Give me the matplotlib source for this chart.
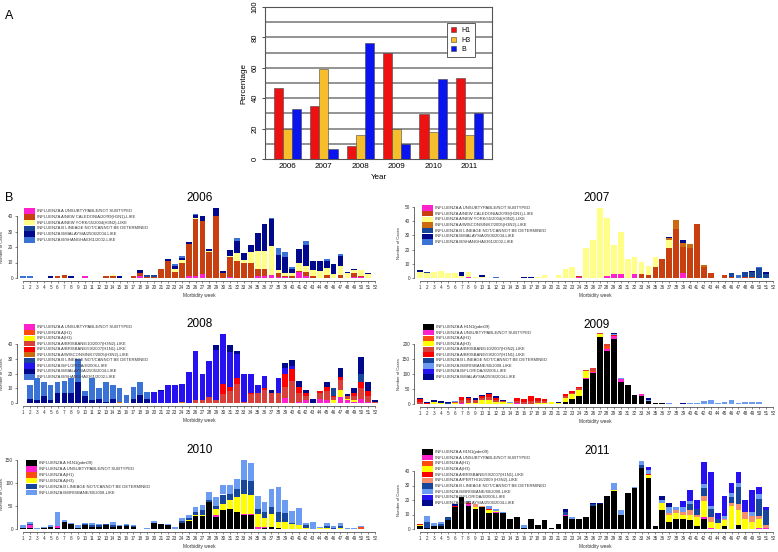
import matplotlib
matplotlib.use('Agg')
import matplotlib.pyplot as plt
from matplotlib.patches import Rectangle

plt.rcParams['font.family'] = ['Liberation Sans', 'DejaVu Sans']

W, H = 778, 552

# ---------------- panel A data ----------------
years = ['2006', '2007', '2008', '2009', '2010', '2011']
pct_h1 = [46.5, 35, 8.5, 70, 29.5, 53]
pct_h3 = [20, 59, 15.5, 19.5, 17.5, 16]
pct_b = [33, 6.5, 76, 10, 52.5, 30]

weeks = list(range(1, 53))

# ---------------- 2006 ----------------
unsub06 = [0, 0, 0, 0, 0, 0, 0, 0, 0, 1, 0, 0, 0, 0, 0, 0, 0, 1, 0, 0,
           0, 0, 0, 0, 1, 1, 2.5, 0, 0, 0, 0.5, 0, 0, 0, 1, 1, 2, 0.5, 0.5, 0,
           4, 1, 0, 0, 0, 0, 0, 0, 0.5, 0.5, 0, 0]
nc06 = [0, 0, 0, 0, 0, 1, 2, 0, 0, 0, 0, 0, 1, 1, 0, 0, 1, 2.5, 0.5, 0.5,
        6, 11, 4, 10, 21, 37, 34.5, 17, 40, 3, 13, 11, 9.5, 10, 5, 5, 0, 3, 1, 1,
        0.5, 3, 1, 0, 2, 0, 2, 0, 2.5, 0.5, 0, 0]
ny06 = [0, 0, 0, 0, 0, 0.5, 0, 0, 0, 0, 0, 0, 0, 0.7, 0, 0, 0, 0, 0, 0,
        0, 0, 1.5, 1.5, 0, 0.5, 0, 0.5, 0, 0, 1, 5, 2, 7, 11.5, 11.5, 18.5, 1.5, 2, 2,
        5.5, 4, 4, 4.5, 4.5, 2.5, 6, 3.5, 2, 4, 2.5, 0]
blin06 = [0, 0, 0, 0, 0, 0, 0, 0, 0, 0, 0, 0, 0, 0, 0, 0, 0, 0, 1.5, 1.5,
          0, 0, 0, 0, 0, 0, 0, 0, 0, 0, 0, 0, 0, 0, 0, 0, 0, 0, 0, 0,
          0, 0, 0, 0, 0, 0, 0, 0, 0, 0, 0, 0]
bmal06 = [0, 0, 0, 0, 1, 0, 0, 1, 0, 0, 0, 0, 0, 0, 1, 0, 0, 1.5, 0, 0,
          0, 1, 2.5, 1.5, 1.5, 2, 3, 1.5, 5, 1.5, 3.5, 8, 4.5, 4, 11.5, 17.5, 17.5, 10, 10, 3,
          9, 13, 6, 6.5, 4.5, 6.5, 6.5, 0.5, 1, 0, 1, 0]
bsha06 = [1, 1, 0, 0, 0, 0, 0, 0, 0, 0, 0, 0, 0, 0, 0, 0, 0, 0, 0, 0,
          0, 0, 1, 1, 0, 0.5, 0, 0, 0, 0, 0, 2, 0, 0, 0, 0, 0.5, 4.5, 3.5, 1,
          0, 3, 0, 0, 1, 0, 1, 0, 0, 0, 0, 0]

# ---------------- 2007 ----------------
unsub07 = [0, 0, 0, 0, 0, 0, 0, 1, 0, 0, 0, 0, 0, 0, 0, 0, 0, 0, 0, 0,
           0, 0, 0, 1, 0, 0, 0, 1.5, 3, 3, 0, 3, 0, 0, 0, 0, 0, 0, 3.5, 0,
           0, 0, 0, 0, 0, 0, 0, 0, 0, 0, 0, 0]
nc07 = [0, 0, 0, 0, 0, 0, 0, 0, 0, 0, 0, 0, 0, 0, 0, 0, 0, 0, 0, 0,
        0, 0, 0, 0.5, 0, 0, 0, 0, 0, 0, 0, 0, 3, 2, 8, 13.5, 21, 34.5, 18.5, 21,
        38, 8, 3.5, 0, 2, 1, 0, 1, 1, 0, 0, 0]
ny07 = [4.5, 3.5, 4, 5, 3.5, 3.5, 1.5, 3, 1, 1, 0, 0, 0, 0, 0, 0, 0, 1, 2, 0,
        2, 6.5, 8, 0, 21, 26.5, 49, 40.5, 20.5, 29.5, 13.5, 11.5, 8, 6.5, 6.5, 0, 6, 0, 0, 0,
        0, 0, 0, 0, 0, 0, 0, 0, 0, 0, 0, 0]
wis07 = [0, 0, 0, 0, 0, 0, 0, 0, 0, 0, 0, 0, 0, 0, 0, 0, 0, 0, 0, 0,
         0, 0, 0, 0, 0, 0, 0, 0, 0, 0, 0, 0, 0, 0, 0, 0, 1.5, 6, 3, 3,
         0, 1, 0, 0, 0, 0, 0, 0, 0, 0, 0, 0]
blin07 = [0, 1, 0, 0, 0, 0, 0, 0, 0, 0, 0, 0, 0, 0, 0, 0, 0, 0, 0, 0,
          0, 0, 0, 0, 0, 0, 0, 0, 0, 0, 0, 0, 0, 0, 0, 0, 0, 0, 0, 0,
          0, 0, 0, 0, 0, 2.5, 0, 3, 3, 7, 2.5, 0]
bmal07 = [1, 0, 0, 0, 0, 0, 2.5, 0, 0, 1, 0, 0, 0, 0, 0, 1, 1, 0, 0, 0,
          0, 0, 0, 0, 0, 0, 0, 0, 0, 0, 0, 0, 0, 0, 0, 0, 0.5, 0, 1.5, 0,
          0, 0, 0, 0, 0, 0, 0, 0, 1, 0, 1.5, 0]
bsha07 = [0, 0, 0, 0, 0, 0, 0, 0, 0, 0, 0, 1, 0, 0, 0, 0, 0, 0, 0, 0,
          0, 0, 0, 0, 0, 0, 0, 0, 0, 0, 0, 0, 0, 0, 0, 0, 0, 0, 0, 0,
          0, 0, 0, 0, 0, 0, 2, 0, 0, 1, 0, 0]

# ---------------- 2008 ----------------
unsub08 = [0] * 38 + [3.6, 0, 1, 2, 0, 3, 2, 0, 4, 2, 1, 3, 1, 0]
ah1_08 = [0] * 52
ah3_08 = [0] * 45 + [2, 5, 1, 1, 0, 0, 0]
bris10_08 = [0] * 25 + [2, 2, 4, 2, 6, 8, 13, 1, 6, 7, 9, 7, 7, 7.4, 15,
                        6, 3, 0, 4, 6, 2, 6.5, 2, 3, 7, 4, 1]
bris59_08 = [0] * 29 + [7, 3, 4, 0, 1, 0, 1, 0, 0, 9, 8,
                        4, 2, 0, 1, 3, 1, 2.5, 0, 2, 4, 3, 0]
wis08 = [0] * 14 + [0.5] + [0] * 8 + [0.5] + [0] * 28
blin08 = [0] * 45 + [5, 0, 0, 0, 6, 0, 0]
bflo08 = [0] * 19 + [7.3, 8, 12, 12, 12.5, 21, 33.7, 18, 24.6, 34, 33.8,
                     24, 16, 18.5, 12.5, 5.3, 8.5, 0, 9.8, 4, 2,
                     0, 0, 0, 0, 0, 0, 0, 0, 0, 0, 0, 0]
bmal08 = [0, 3, 2, 5, 2, 7, 7, 7, 14.5, 5, 2, 3, 1, 3, 0, 0, 3, 5.5, 3, 0,
          1, 0, 0, 0, 0, 0, 0, 0, 3.5, 0, 4.5, 2.7, 0, 0, 0, 0, 2, 0, 3, 4.3,
          4, 2, 3, 0, 3.5, 0, 6, 1, 3.5, 11, 6.5, 1]
bsha08 = [0, 9, 15, 9.5, 10.5, 7.5, 8, 10, 15.5, 3, 15, 7, 13.5, 9.3, 9.5, 5.5, 8, 8.5, 4.3] + [0] * 33

# ---------------- 2009 ----------------
pdm09 = [0] * 21 + [8, 18, 28, 84, 102, 225, 176, 218, 75, 65, 30, 28, 10, 3, 2, 0, 1, 1,
                    0, 0, 0, 0, 0, 0, 0, 0, 0, 0, 0, 0, 0]
unsub09 = [0, 0, 0, 0, 0, 0, 2, 0, 0, 0, 0, 0, 0, 0, 2, 0, 0, 0, 0, 0,
           0, 0, 0, 0, 2, 4, 0, 8, 8, 8, 0, 0, 4, 0, 0, 0, 0, 0, 0, 0,
           0, 0, 0, 0, 0, 0, 0, 0, 0, 0, 0, 0]
ah1_09 = [0] * 25 + [4, 0, 8] + [0] * 24
ah3_09 = [0, 0, 6, 4, 0, 5, 0, 5, 5, 12, 14, 6, 8, 4, 0, 0, 0, 5, 4, 6,
          3, 12, 14, 20, 24, 0, 8, 0, 0, 0] + [0] * 22
bris10_09 = [8, 0, 0, 0, 0, 2, 10, 8, 10, 8, 10, 8, 2, 0, 8, 6, 10, 5, 6, 2,
             1, 6, 6, 6, 4, 10, 4, 8, 0, 0] + [0] * 22
bris59_09 = [8, 3, 0, 0, 0, 0, 12, 6, 0, 6, 8, 6, 0, 0, 10, 12, 17, 10, 8, 0,
             0, 7, 4, 3, 0, 0, 0, 0, 5, 0] + [0] * 22
blin09 = [0, 0, 0, 0, 3] + [0] * 47
bbri09 = [0, 0, 0, 0, 0, 3, 0, 0, 0, 0, 0, 0, 0, 2, 0, 0, 0, 0, 0, 0,
          0, 0, 0, 0, 0, 0, 0, 0, 3, 4, 0, 0, 0, 5, 0, 0, 4, 0, 0, 2,
          2, 10, 12, 4, 6, 14, 5, 8, 8, 6, 0, 0]
bflo09 = [0] * 52
bmal09 = [4, 3, 6, 6, 4, 0, 0, 5, 6, 4, 4, 6, 2, 0, 0, 0, 0, 0, 0, 0,
          2, 0, 0, 0, 0, 0, 0, 0, 3, 0, 0, 0, 0, 6, 1, 0, 0, 0, 1, 0,
          0, 0, 0, 0, 0, 0, 0, 0, 0, 0, 0, 0]

# ---------------- 2010 ----------------
pdm10 = [2, 3, 0, 2, 4, 2, 15, 10, 2, 8, 5, 5, 8, 4, 6, 6, 4, 0, 0, 13,
         10, 9, 1, 13, 18, 28, 28, 58, 27, 42, 44, 36, 30, 31, 0, 2, 4, 2, 0, 0,
         0, 0, 0, 0, 0, 0, 0, 0, 0, 0, 0, 0]
unsub10 = [1, 5, 0, 0, 0, 5, 0, 0, 0, 0, 0, 0, 1, 0, 0, 0, 0, 0, 0, 0,
           0, 0, 0, 0, 0, 0, 0, 0, 3, 0, 0, 2, 3, 2, 5, 2, 0, 0, 0, 0,
           0, 0, 0, 0, 0, 0, 0, 0, 0, 0, 0, 0]
ah1_10 = [0] * 49 + [4, 0, 0]
ah3_10 = [0] * 24 + [2, 3, 3, 0, 13, 13, 18, 32, 43, 40, 27, 20, 28, 14, 15, 10,
                     8, 3, 0, 2, 2, 0, 2, 0, 0, 0, 0, 0]
blin10 = [0, 2, 0, 0, 0, 0, 0, 0, 0, 3, 3, 3, 2, 4, 0, 3, 2, 0, 0, 0,
          1, 0, 0, 5, 4, 6, 10, 5, 6, 20, 14, 16, 30, 32, 12, 14, 16, 20, 20, 3,
          0, 5, 0, 0, 5, 3, 5, 0, 0, 0, 0, 0]
bbri10 = [5, 5, 2.5, 2, 4, 29, 5, 2, 6, 2, 5, 3, 0, 7, 3, 2, 2, 0, 2, 5,
          0, 2, 2.5, 7, 7, 10, 12, 17, 20, 20, 20, 23, 44, 38, 27, 20, 38, 55, 28, 27,
          38, 5, 15, 2, 5, 3, 7, 2, 2, 3, 1, 0]

# ---------------- 2011 ----------------
pdm11 = [2, 1, 2, 2, 6, 15, 22, 16, 14, 15, 11, 11, 11, 7, 8, 1, 7, 3, 6, 1,
         3.5, 9, 7, 7, 8, 16, 17, 23, 26, 10, 24.5, 28, 42, 35, 2, 13, 5, 7, 7, 6,
         2, 7, 0, 0, 2, 0, 3, 0, 0, 0, 0, 0]
unsub11 = [0, 0, 0, 0, 0, 0, 0, 1, 0, 0, 0, 0.5, 0, 0, 0, 0, 0, 0, 0, 0,
           0, 1, 0, 0, 0, 0, 0, 0, 0, 0, 0, 0, 0, 0, 0, 0, 0, 0, 0, 0,
           0, 1, 1, 0, 0, 0, 0, 0, 0, 1, 1, 0]
ah1_11 = [0] * 52
ah3_11 = [1, 0, 0, 0, 0, 0, 0, 0, 1, 0, 2, 1, 0, 0, 0, 0, 0, 0, 0, 0,
          0, 0, 0, 0, 0, 0, 0, 0, 1, 0, 0, 0, 0, 2, 0, 5, 5, 4, 3, 4,
          6, 11, 4, 4, 4, 16, 10, 7, 5, 6, 0, 0]
bris59_11 = [0.5, 0, 0, 0, 0, 1, 0, 1, 0, 0, 1, 0, 0, 0, 0, 0, 0, 0, 0, 0,
             0, 0, 0, 0, 0, 0, 0, 0, 0, 0, 0, 0, 0, 1, 0, 0, 0, 0, 0, 0,
             0, 0, 0, 0, 0, 0, 0, 0, 0, 0, 0, 0]
perth11 = [0, 0, 0, 0, 0, 0, 0, 0.5, 2, 1, 0, 0, 0, 0, 0, 0, 0, 0, 0, 0,
           0, 0, 0, 0, 0, 0, 0, 0, 0, 0, 0, 0, 0, 0, 0, 0, 1, 2, 2, 3,
           2, 4, 3, 0, 1, 2, 4, 5, 4, 2, 2, 0]
blin11 = [0, 4, 0, 1.5, 2, 0, 0, 0, 0, 0, 0, 0, 0, 0, 0, 0, 0, 0, 0, 0,
          0, 2, 0, 0, 0, 1, 0, 0, 0, 0, 0, 0, 2, 0, 0, 0, 0, 0, 0, 4,
          4, 5, 6, 3, 0, 4, 12, 0, 0, 12, 10, 0]
bbri11 = [0, 4, 2, 1.5, 0, 0, 0, 1, 0, 0, 2, 1.5, 1, 0, 0, 1.5, 0, 0, 0, 0,
          0, 0, 1, 0, 0, 0, 0, 0, 5, 3, 0, 1, 3, 3, 0, 2, 4, 2, 3, 2,
          0, 3, 2, 0, 2, 3, 3, 0, 3, 3, 0, 0]
bflo11 = [0] * 33 + [2, 0, 0, 0, 0, 4, 8, 6, 15, 23, 4, 14, 7, 7, 8, 15, 5, 2, 0]
bmal11 = [0, 0, 0, 0, 0, 1, 0, 0, 0, 0, 0, 0, 0, 0, 0, 0, 0, 0, 0, 0,
          0, 2, 0, 0, 0, 1, 1, 0, 0, 0, 0.5, 0, 0, 0, 0, 3, 3, 0, 0, 0,
          0, 0, 0, 0, 0, 0, 0, 0, 0, 0, 0, 0]

# colours
C_UNSUB = '#FF22CC'
C_NC = '#C8400F'
C_NY = '#FFFF88'
C_WIS = '#CC6A10'
C_BLIN = '#17469A'
C_BMAL = '#00088C'
C_BSHA = '#3A72D6'
C_AH1 = '#FF4A10'
C_AH3 = '#FFFF00'
C_BR10 = '#D8403A'
C_BR59 = '#FF0000'
C_BFLO = '#2612F0'
C_PDM = '#000000'
C_BBRI = '#6C9CF2'
C_PERTH = '#F4906C'

L_UNSUB = 'INFLUENZA A UNSUBTYPABLE/NOT SUBTYPED'
L_NC = 'INFLUENZA A/NEW CALEDONIA/20/99(H1N1)-LIKE'
L_NY = 'INFLUENZA A/NEW YORK/55/2004(H3N2)-LIKE'
L_WIS = 'INFLUENZA A/WISCONSIN/67/2005(H3N2)-LIKE'
L_BLIN = 'INFLUENZA B LINEAGE NOT/CANNOT BE DETERMINED'
L_BMAL = 'INFLUENZA B/MALAYSIA/2506/2004-LIKE'
L_BSHA = 'INFLUENZA B/SHANGHAI/361/2002-LIKE'
L_AH1 = 'INFLUENZA A(H1)'
L_AH3 = 'INFLUENZA A(H3)'
L_BR10 = 'INFLUENZA A/BRISBANE/10/2007(H3N2)-LIKE'
L_BR59 = 'INFLUENZA A/BRISBANE/59/2007(H1N1)-LIKE'
L_BFLO = 'INFLUENZA B/FLORIDA/4/2006-LIKE'
L_PDM = 'INFLUENZA A H1N1(pdm09)'
L_BBRI = 'INFLUENZA B/BRISBANE/60/2008-LIKE'
L_PERTH = 'INFLUENZA A/PERTH/16/2009 (H3N2)-LIKE'

fig = plt.figure(figsize=(W / 100, H / 100), dpi=100)


def px_axes(x0, x1, y_top, y_bot):
    return fig.add_axes([x0 / W, 1 - y_bot / H, (x1 - x0) / W, (y_bot - y_top) / H])


def ftext(x, y, s, **kw):
    fig.text(x / W, 1 - y / H, s, **kw)


# ---------------- panel A ----------------
axA = px_axes(265, 492, 7, 159)
grp = [4 * i for i in range(len(years))]
for off, vals, col, lab in [(1.5, pct_h1, '#EE1111', 'H1'),
                            (2.5, pct_h3, '#F6BE2C', 'H3'),
                            (3.5, pct_b, '#0A14F0', 'B')]:
    axA.bar([g + off for g in grp], vals, width=1.0, color=col,
            edgecolor='#444444', linewidth=0.4, label=lab, zorder=3)
axA.set_xlim(0.04, 24.96)
axA.set_ylim(0, 100)
for yv in range(10, 100, 10):
    axA.axhline(yv, color='#8a8a8a', lw=1.3, zorder=1)
axA.set_yticks(range(0, 101, 20))
axA.set_yticklabels([str(v) for v in range(0, 101, 20)], rotation=90, va='center', fontsize=5.5)
axA.set_xticks([g + 2.5 for g in grp])
axA.set_xticklabels(years, fontsize=5.8)
axA.tick_params(axis='x', length=0, pad=3)
axA.tick_params(axis='y', length=2.5, width=0.5, pad=2)
for s in axA.spines.values():
    s.set_linewidth(0.8)
    s.set_color('#555555')
axA.set_ylabel('Percentage', fontsize=5.8, labelpad=3)
axA.set_xlabel('Year', fontsize=5.8, labelpad=3)
axA.legend(loc='upper left', bbox_to_anchor=(447 / W, 1 - 23 / H), bbox_transform=fig.transFigure,
           fontsize=5, frameon=True, fancybox=False, edgecolor='#444444', framealpha=1,
           handlelength=0.7, handleheight=0.7, handletextpad=0.8, labelspacing=0.35,
           borderpad=0.6, borderaxespad=0)
axA.get_legend().get_frame().set_linewidth(0.6)
ftext(5, 16, 'A', fontsize=9, va='center')
ftext(5, 198, 'B', fontsize=9, va='center')


# ---------------- panel B helpers ----------------
def week_panel(col, zero, scale, ymax, ticks, series, title, title_xy, leg_xy, leg_sp):
    if col == 0:
        x0, x1, xl = 16.8, 381.2, (0.1, 52.9)
    else:
        x0, x1, xl = 413.8, 777.2, (0.1, 52.6)
    ymin = -3.0 / scale
    ax = px_axes(x0, x1, zero - ymax * scale, zero + 3)
    bottom = [0.0] * 52
    for vals, colr, lab in series:
        ax.bar(weeks, vals, bottom=bottom, width=0.83, color=colr, linewidth=0)
        bottom = [b + v for b, v in zip(bottom, vals)]
    ax.set_xlim(*xl)
    ax.set_ylim(ymin, ymax)
    for s in ['top', 'right']:
        ax.spines[s].set_visible(False)
    ax.spines['left'].set_bounds(0, ticks[-1])
    ax.spines['bottom'].set_bounds(1, 52)
    for s in ['left', 'bottom']:
        ax.spines[s].set_linewidth(0.5)
        ax.spines[s].set_color('#333333')
    ax.set_xticks(weeks)
    ax.set_xticklabels([str(w) for w in weeks], fontsize=3.3)
    ax.set_yticks(ticks)
    ax.set_yticklabels([str(t) for t in ticks], fontsize=3.4)
    ax.tick_params(length=1.6, width=0.4, pad=1.2, colors='#333333')
    ax.set_xlabel('Morbidity week', fontsize=3.4, labelpad=2, color='#333333')
    ax.set_ylabel('Number of Cases', fontsize=3.0, color='#333333')
    # fixed label position so wide tick labels don't push it off the figure
    lab_px = 4.2 if col == 0 else 401
    ax.yaxis.set_label_coords((lab_px - x0) / (x1 - x0), (ticks[-1] / 2 - ymin) / (ymax - ymin))
    ftext(title_xy[0], title_xy[1], title, fontsize=8.5, ha='center', va='center')
    lx, ly = leg_xy
    for i, (vals, colr, lab) in enumerate(series):
        cy = ly + i * leg_sp
        fig.add_artist(Rectangle((lx / W, 1 - (cy + leg_sp * 0.47) / H), 11 / W, leg_sp * 0.94 / H,
                                 transform=fig.transFigure, facecolor=colr, edgecolor='none'))
        ftext(lx + 13, cy, lab, fontsize=3.0, va='center', color='#333333')
    return ax


week_panel(0, 278, 1.55, 45.5, [0, 10, 20, 30, 40],
           [(unsub06, C_UNSUB, L_UNSUB), (nc06, C_NC, L_NC), (ny06, C_NY, L_NY),
            (blin06, C_BLIN, L_BLIN), (bmal06, C_BMAL, L_BMAL), (bsha06, C_BSHA, L_BSHA)],
           '2006', (200, 198), (24, 211), 5.8)

week_panel(1, 278, 1.42, 50.5, [0, 10, 20, 30, 40, 50],
           [(unsub07, C_UNSUB, L_UNSUB), (nc07, C_NC, L_NC), (ny07, C_NY, L_NY),
            (wis07, C_WIS, L_WIS), (blin07, C_BLIN, L_BLIN), (bmal07, C_BMAL, L_BMAL),
            (bsha07, C_BSHA, L_BSHA)],
           '2007', (597, 198), (422, 208), 5.67)

week_panel(0, 403, 1.47, 47.5, [0, 10, 20, 30, 40],
           [(unsub08, C_UNSUB, L_UNSUB), (ah1_08, C_AH1, L_AH1), (ah3_08, C_AH3, L_AH3),
            (bris10_08, C_BR10, L_BR10), (bris59_08, C_BR59, L_BR59), (wis08, C_WIS, L_WIS),
            (blin08, C_BLIN, L_BLIN), (bflo08, C_BFLO, L_BFLO), (bmal08, C_BMAL, L_BMAL),
            (bsha08, C_BSHA, L_BSHA)],
           '2008', (200, 324), (24, 327), 5.56)

week_panel(1, 404, 0.30, 240, [0, 50, 100, 150, 200],
           [(pdm09, C_PDM, L_PDM), (unsub09, C_UNSUB, L_UNSUB), (ah1_09, C_AH1, L_AH1),
            (ah3_09, C_AH3, L_AH3), (bris10_09, C_BR10, L_BR10), (bris59_09, C_BR59, L_BR59),
            (blin09, C_BLIN, L_BLIN), (bbri09, C_BBRI, L_BBRI), (bflo09, C_BFLO, L_BFLO),
            (bmal09, C_BMAL, L_BMAL)],
           '2009', (597, 325), (423, 327), 5.56)

week_panel(0, 529, 0.46, 152, [0, 50, 100, 150],
           [(pdm10, C_PDM, L_PDM), (unsub10, C_UNSUB, L_UNSUB), (ah1_10, C_AH1, L_AH1),
            (ah3_10, C_AH3, L_AH3), (blin10, C_BLIN, L_BLIN), (bbri10, C_BBRI, L_BBRI)],
           '2010', (200, 450), (26, 463), 5.9)

week_panel(1, 529, 1.45, 48, [0, 10, 20, 30, 40],
           [(pdm11, C_PDM, L_PDM), (unsub11, C_UNSUB, L_UNSUB), (ah1_11, C_AH1, L_AH1),
            (ah3_11, C_AH3, L_AH3), (bris59_11, C_BR59, L_BR59), (perth11, C_PERTH, L_PERTH),
            (blin11, C_BLIN, L_BLIN), (bbri11, C_BBRI, L_BBRI), (bflo11, C_BFLO, L_BFLO),
            (bmal11, C_BMAL, L_BMAL)],
           '2011', (597, 451), (422, 452), 5.67)

fig.savefig('out.png', dpi=100)
